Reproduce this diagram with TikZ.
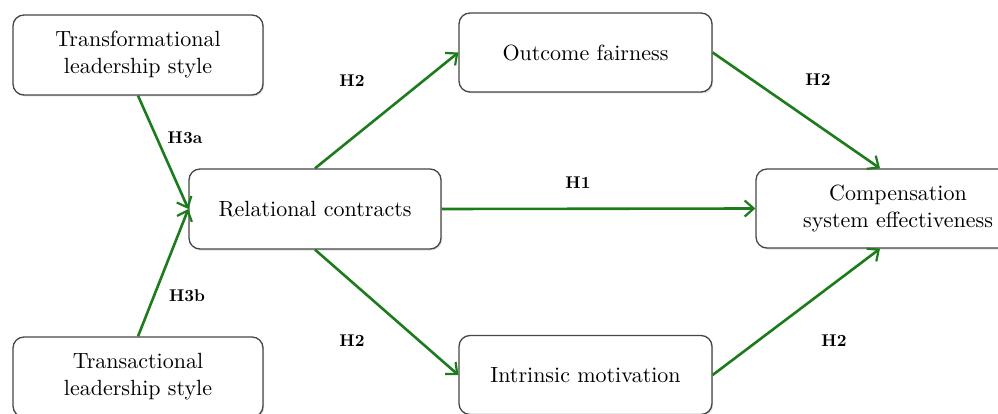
\documentclass[tikz,border=0pt]{standalone}
\usepackage{fontspec}
\setmainfont{lmroman10-regular}[Extension=.otf, BoldFont=lmroman10-bold, ItalicFont=lmroman10-italic]
\usetikzlibrary{arrows.meta,shadows}
\definecolor{arrowgreen}{RGB}{28,124,28}
\definecolor{boxline}{RGB}{70,70,70}
\begin{document}
\begin{tikzpicture}[x=1pt,y=-1pt,
  box/.style={draw=boxline, line width=1.3pt, rounded corners=11pt, fill=white,
    drop shadow={shadow xshift=1.2pt, shadow yshift=-1.5pt, opacity=0.25},
    align=center, font=\fontsize{22}{27}\selectfont, inner sep=0pt},
  conn/.style={draw=arrowgreen, line width=2.6pt, -{Straight Barb[length=9pt,width=16pt,line width=2.2pt]}},
  lab/.style={font=\fontsize{17}{20}\selectfont\bfseries, inner sep=0pt}]
\useasboundingbox (0,0) rectangle (998,414);
% boxes
\node[box, minimum width=250pt, minimum height=80pt] (trf) at (138,55) {Transformational\\leadership style};
\node[box, minimum width=250pt, minimum height=80pt] (trs) at (138,377) {Transactional\\leadership style};
\node[box, minimum width=252pt, minimum height=80pt] (rel) at (315,209) {Relational contracts};
\node[box, minimum width=253pt, minimum height=79pt] (out) at (585.5,52.5) {Outcome fairness};
\node[box, minimum width=253pt, minimum height=79pt] (int) at (585.5,375) {Intrinsic motivation};
\node[box, minimum width=284pt, minimum height=79pt] (cse) at (898,208.5) {Compensation\\system effectiveness};
% connectors
\draw[conn] (trf.south) -- (rel.west);
\draw[conn] (trs.north) -- (rel.west);
\draw[conn] (rel.north) -- (out.west);
\draw[conn] (rel.south) -- (int.west);
\draw[conn] (rel.east) -- (cse.west);
\draw[conn] (out.east) -- ([xshift=-18pt]cse.north);
\draw[conn] (int.east) -- ([xshift=-18pt]cse.south);
% labels
\node[lab] (l1) at (185,138) {H3a};
\node[lab] (l2) at (187,296) {H3b};
\node[lab] (l3) at (352,81) {H2};
\node[lab] (l4) at (352,341) {H2};
\node[lab] (l5) at (578,183) {H1};
\node[lab] (l6) at (818,80) {H2};
\node[lab] (l7) at (834,341) {H2};
\end{tikzpicture}
\end{document}
